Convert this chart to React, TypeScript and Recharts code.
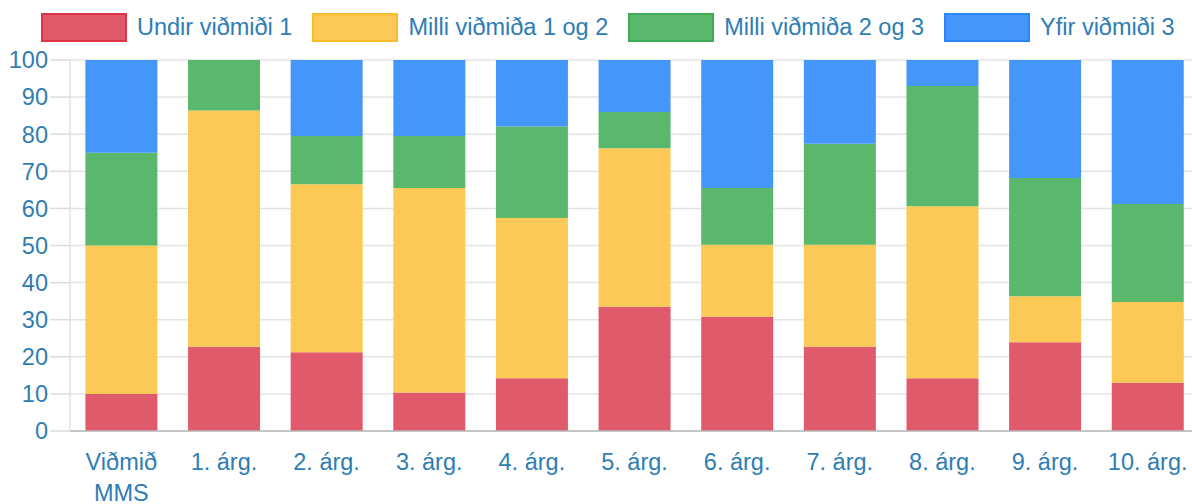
import React from 'react';
import { BarChart, Bar, XAxis, YAxis, CartesianGrid, Legend } from 'recharts';

const categories = ['Viðmið\nMMS', '1. árg.', '2. árg.', '3. árg.', '4. árg.', '5. árg.', '6. árg.', '7. árg.', '8. árg.', '9. árg.', '10. árg.'];
const undirVidmidi1 = [10, 22.7, 21.2, 10.4, 14.2, 33.5, 30.8, 22.7, 14.2, 23.9, 13.0];
const milliVidmida12 = [40, 63.7, 45.3, 55.1, 43.2, 42.7, 19.4, 27.5, 46.4, 12.4, 21.8];
const milliVidmida23 = [25, 13.6, 13.0, 14.0, 24.7, 9.8, 15.3, 27.2, 32.4, 31.9, 26.4];
const yfirVidmidi3 = [25, 0, 20.5, 20.5, 17.9, 14.0, 34.5, 22.6, 7.0, 31.8, 38.8];
const yTicks = [0, 10, 20, 30, 40, 50, 60, 70, 80, 90, 100];

const seriesNames = ['Undir viðmiði 1', 'Milli viðmiða 1 og 2', 'Milli viðmiða 2 og 3', 'Yfir viðmiði 3'];
const fills = ['#e05a6c', '#fcc956', '#5ab86c', '#4496fa'];
const borders = ['#dc3545', '#f8bd2a', '#3ea955', '#2a86f6'];
const keys = ['undir', 'milli12', 'milli23', 'yfir'];

const data = categories.map((name, i) => ({
  name,
  undir: undirVidmidi1[i],
  milli12: milliVidmida12[i],
  milli23: milliVidmida23[i],
  yfir: yfirVidmidi3[i],
}));

const FONT = '"Liberation Sans", Arial, Helvetica, sans-serif';
const TEXT = '#2e7db3';

const XTick = (props: any) => {
  const { x, y, payload } = props;
  const lines = String(payload.value).split('\n');
  return (
    <text x={x} y={y} textAnchor="middle" fill={TEXT} fontFamily={FONT} fontSize={23.5}>
      {lines.map((l, i) => (
        <tspan key={i} x={x} dy={i === 0 ? 39 : 31}>{l}</tspan>
      ))}
    </text>
  );
};

const renderLegend = () => (
  <div style={{ height: 60, width: 1200, display: 'flex', alignItems: 'flex-start', paddingLeft: 41, boxSizing: 'border-box', paddingTop: 13 }}>
    {seriesNames.map((n, i) => (
      <div key={n} style={{ display: 'flex', alignItems: 'center', marginRight: 20 }}>
        <div style={{ width: 86, height: 29, boxSizing: 'border-box', background: fills[i], border: `2px solid ${borders[i]}`, marginRight: 10 }} />
        <span style={{ fontFamily: FONT, fontSize: 23.5, color: TEXT, whiteSpace: 'nowrap', lineHeight: '29px' }}>{n}</span>
      </div>
    ))}
  </div>
);

export default function App() {
  return (
    <div style={{ position: 'absolute', left: 0, top: 0, width: 1192, height: 504, overflow: 'hidden', background: '#fff' }}>
      <BarChart width={1200} height={504} data={data} margin={{ top: 0, right: 1, bottom: 0, left: 0 }} barCategoryGap="15%">
        <Legend verticalAlign="top" align="left" content={renderLegend} wrapperStyle={{ top: 0, left: 0, width: 1200, height: 60 }} />
        <CartesianGrid vertical={false} stroke="#e3e3e3" strokeWidth={1.5} />
        <XAxis
          dataKey="name"
          height={73}
          interval={0}
          tickSize={0}
          tickMargin={0}
          tick={<XTick />}
          axisLine={{ stroke: '#b8b8b8', strokeWidth: 1.5 }}
          tickLine={false}
        />
        <YAxis
          width={70}
          domain={[0, 100]}
          ticks={yTicks}
          interval={0}
          tickSize={20}
          tickMargin={2}
          axisLine={{ stroke: '#e3e3e3', strokeWidth: 1.5 }}
          tickLine={{ stroke: '#dcdcdc', strokeWidth: 1.5 }}
          tick={{ fill: TEXT, fontFamily: FONT, fontSize: 23.5 }}
        />
        {keys.map((k, i) => (
          <Bar key={k} dataKey={k} name={seriesNames[i]} stackId="a" fill={fills[i]} isAnimationActive={false} />
        ))}
      </BarChart>
    </div>
  );
}
